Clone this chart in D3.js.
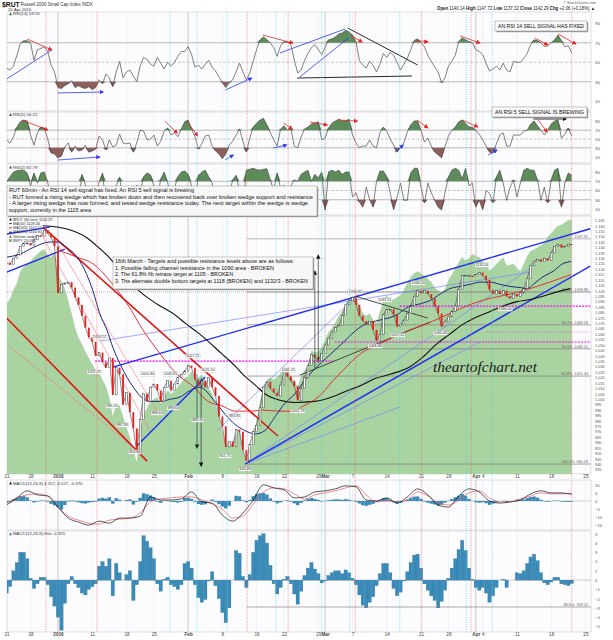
<!DOCTYPE html>
<html>
<head>
<meta charset="utf-8">
<title>$RUT 60 min</title>
<script src="https://cdn.jsdelivr.net/npm/d3@7"></script>
<style>
  body { margin: 0; background: #fff; }
  svg { display: block; }
  text { font-family: "Liberation Sans", Arial, sans-serif; }
  text.mark { font-family: "Liberation Serif", "DejaVu Serif", serif; font-style: italic; }
</style>
</head>
<body>
<svg id="chart" width="613" height="640"></svg>
<script>
/**
 * $RUT 60 min, 21 Dec 2015 - 20 Apr 2016, with RSI(14/5/2) and MACD panels.
 */
const STEP = 0.5;       // trading days between samples
const MACD_STEP = 1.5;  // MACD lines were read more coarsely

// price panel (RUT closes, SPY overlay expressed on the RUT scale)
const closes = [1126,1124,1130,1133,1141,1144,1144,1142,1147,1151,
  1150,1156,1153,1149,1141,1098,1106,1107,1108,1103,
  1094,1087,1077,1066,1057,1053,1040,1043,1034,1029,
  1038,1004,1029,1023,995,1006,988,973,951,981,
  1005,998,1011,1014,1008,998,1011,1017,1008,1014,
  1020,1023,1026,1031,1029,1018,1012,1017,1011,1020,
  1011,1003,984,975,956,961,956,972,970,953,
  943,958,970,976,992,1011,1016,1010,1006,1003,
  1013,1025,1021,1017,1012,999,1010,1020,1031,1041,
  1039,1036,1042,1050,1056,1062,1066,1068,1077,1087,
  1091,1094,1087,1077,1072,1069,1072,1064,1054,1060,
  1078,1083,1083,1078,1067,1069,1073,1079,1086,1095,
  1100,1098,1100,1097,1093,1086,1079,1067,1072,1076,
  1081,1086,1101,1114,1114,1114,1113,1115,1117,1114,
  1110,1101,1097,1100,1097,1100,1095,1093,1097,1095,
  1098,1102,1111,1123,1127,1129,1127,1130,1128,1135,
  1141,1143,1140,1141,1143,1142.29];

const spyOverlay = [1088,1093,1101,1107,1118,1122,1125,1127,1131,1134,
  1137,1138,1133,1131,1134,1115,1109,1102,1091,1079,
  1066,1057,1051,1044,1038,1032,1027,1024,1018,1012,
  1001,984,996,994,984,974,965,953,942,973,
  986,992,998,1000,1002,996,1003,1008,1005,1007,
  1012,1015,1020,1021,1026,1017,1020,1023,1017,1010,
  1005,996,984,970,959,956,959,968,972,953,
  941,951,966,981,998,1010,1018,1020,1018,1020,
  1024,1029,1027,1021,1016,1012,1021,1027,1032,1045,
  1043,1044,1048,1055,1062,1066,1071,1077,1081,1087,
  1093,1095,1093,1087,1079,1077,1079,1073,1070,1081,
  1091,1096,1091,1092,1094,1096,1101,1107,1113,1116,
  1118,1116,1114,1111,1108,1103,1100,1098,1102,1110,
  1115,1121,1126,1131,1128,1130,1134,1132,1131,1127,
  1125,1119,1121,1125,1128,1131,1123,1124,1125,1121,
  1118,1125,1132,1137,1138,1140,1142,1144,1150,1153,
  1157,1160,1161,1163,1165,1166];

// moving averages as [trading day, value]
const ma50 = [[0,1131],[2,1134],[3.9,1140],[6.3,1145],[7.5,1145],[8.8,1140],[10.3,1131],[11.7,1115],
  [12.6,1100],[13.6,1079],[14.7,1063],[15.5,1048],[16.6,1032],[17.6,1020],[18.5,1011],[19.5,1003],
  [20.9,998],[22.4,998],[23.9,1000],[25.3,1002],[26.8,1008],[28.2,1011],[30.4,998],[31.9,986],
  [33.3,977],[34.8,971],[36.3,968],[37.7,971],[39.2,984],[40.6,996],[42.1,1005],[43.6,1018],
  [45,1028],[46.5,1037],[47.9,1045],[49.4,1054],[50.9,1063],[52.3,1069],[53.8,1072],[55.2,1074],
  [56.7,1077],[58.9,1086],[60.4,1088],[61.8,1091],[63.3,1097],[64.7,1102],[66.2,1104],[67.7,1106],
  [69.1,1108],[70.6,1108],[72,1106],[73.5,1104],[75,1103],[76,1102],[76.9,1106],[78.3,1113],
  [79.8,1118],[81.2,1125],[82.4,1127]];
const ma100 = [[7.8,1137],[10.3,1131],[12.6,1125],[15.1,1109],[17.6,1088],[20,1063],[22.4,1042],
  [24.9,1023],[27.2,1012],[29.4,998],[31.4,994],[33.3,989],[35.8,989],[37.3,990],[39.6,989],
  [42.1,989],[43.1,993],[44.6,998],[46,1005],[47.5,1016],[49,1026],[50.4,1035],[51.9,1043],
  [53.8,1049],[56.7,1058],[58.9,1064],[61.1,1069],[63.3,1075],[65.7,1082],[68.4,1089],
  [70.6,1093],[73.5,1097],[76.4,1102],[79.3,1108],[82.4,1115]];
const ma200 = [[5.3,1160],[8.8,1157],[11.7,1149],[13.6,1139],[15.1,1130],[17,1115],[19.5,1099],
  [21.9,1088],[24.3,1079],[26.3,1069],[28.2,1060],[31.4,1042],[33.3,1031],[34.8,1021],[36.3,1013],
  [37.7,1005],[39.9,999],[42.1,997],[45,998],[47.9,1003],[49.8,1008],[51.9,1013],[53.8,1019],
  [56,1023],[58.9,1030],[60.8,1039],[62.8,1051],[64.7,1060],[66.6,1069],[68.7,1076],[70.6,1081],
  [72.5,1086],[74.5,1090],[76.4,1092],[78.3,1095],[80.4,1099],[82.3,1102]];

// indicator panels
const rsi14 = [44,42,46,57,69,72,72,70,52,63, 64,66,61,47,40,24,23,26,28,31,
  24,26,24,23,25,22,24,32,28,38, 34,25,40,51,34,40,42,36,30,46,
  55,53,48,46,55,49,43,50,46,50, 56,61,61,66,58,45,47,43,48,52,
  45,41,35,29,24,29,32,40,49,40, 32,39,51,63,73,76,73,70,65,56,
  67,71,71,68,52,39,42,52,59,65, 68,63,58,65,73,74,76,79,80,83,
  81,78,71,52,47,44,51,47,40,48, 59,55,60,57,50,42,48,54,63,72,
  74,70,66,57,51,45,40,29,34,46, 51,57,71,75,73,71,70,63,61,58,
  49,41,43,46,42,49,42,40,51,50, 50,54,59,68,73,72,70,66,67,70,
  73,78,72,66,67,59.5];
const rsi5 = [48,41,55,77,89,93,91,59,36,64, 77,75,50,18,16,7,11,32,41,20,
  34,23,25,36,20,23,27,57,48,25, 48,32,36,61,41,39,41,20,41,70,
  68,48,50,59,34,45,68,75,59,64, 55,73,89,93,73,55,27,39,57,59,
  34,23,16,5,16,36,45,59,73,45, 20,52,77,86,93,97,82,64,48,34,
  73,80,70,75,34,30,55,73,77,84, 86,89,48,52,75,86,91,95,91,91,
  95,59,41,30,34,34,48,34,30,64, 77,68,50,36,20,30,41,66,82,91,
  91,70,43,52,34,20,14,7,32,57, 70,77,89,93,86,77,77,70,61,48,
  34,20,18,39,59,64,34,34,59,59, 59,68,70,84,91,80,70,59,70,84,
  91,93,52,61,75,56.22];
const rsi2 = [68,80,90,93,94,94,88,60,88,66, 88,90,68,30,15,8,20,45,25,12,
  40,20,85,62,20,10,35,68,88,20, 55,10,60,79,20,50,25,10,62,45,
  80,88,84,60,30,75,90,68,30,55, 80,90,92,85,60,25,83,90,94,80,
  66,20,8,15,6,40,73,83,50,15, 94,96,98,95,94,96,97,73,50,88,
  55,62,30,60,73,70,85,90,94,70, 85,77,90,8,90,94,90,94,85,90,
  90,36,45,25,14,57,30,14,70,92, 92,80,45,8,36,66,29,29,88,98,
  98,57,23,66,45,29,14,8,45,79, 94,98,94,75,98,60,66,14,29,8,
  50,44,23,79,94,66,29,57,73,36, 66,94,98,94,94,73,29,57,23,73,
  94,98,14,66,88,82.79];
const macdLine = [-2.5,1.9,6.3,3.8,3.1,-3.8,-10.6,-13.1,-15,-12.5,
  -13.8,-10.6,-10.6,-9.4,2.5,0.6,0.6,1.3,5.6,-0.6,
  -1.3,-8.8,-12.5,-7.5,0.6,10,8.1,6.9,1.9,2.5,
  5.6,6.3,7.5,9.4,8.8,0.6,0,1.9,-1.3,2.5,
  7.5,3.8,-2.5,-3.8,3.1,7.5,5.6,0,-1.3,-0.6,
  0.6,4.4,6.3,5,5,4.157];
const macdSignal = [-1.3,1.9,3.8,4.4,3.1,-3.8,-9.4,-11.9,-13.8,-14.4,
  -11.9,-11.3,-10.6,-7.5,-0.6,1.3,1.9,2.5,2.5,0.6,
  -1.9,-5,-10.6,-9.4,-1.9,5.6,8.1,7.5,4.4,1.3,
  3.8,5,6.3,8.1,9.4,3.8,-0.6,0,-0.6,0.6,
  5.6,3.1,-1.3,-2.5,0.6,5,6.3,1.9,-0.6,-0.6,
  1.3,3.1,5,4.4,4.4,4.527];
const macdHist = [-1.4,-0.7,1.0,1.9,3.0,3.0,2.3,0.2,-0.9,-0.4,
  0.3,0.3,-0.5,-1.8,-2.8,-4.0,-5.4,-2.5,-0.4,0.4,
  -0.4,-0.8,-1.4,-1.6,-1.0,-0.7,-0.4,1.5,2.0,1.5,
  2.3,-1.7,1.8,0.8,0,0.6,1.0,-2.2,-0.5,2.0,
  4.8,4.2,3.5,2.3,-0.4,-1.2,0.1,0.3,-0.5,-0.7,
  -1.0,-0.5,1.8,2.0,1.3,-0.5,-1.9,-2.4,-2.1,-0.1,
  0.9,-0.6,-2.0,-3.5,-4.6,-3.0,0.0,3.2,2.9,0.4,
  -0.8,0.6,3.0,4.3,4.8,5.0,4.0,1.6,-0.4,-1.5,
  -0.8,0.1,0.4,-0.4,-1.5,-2.6,-1.2,0.5,1.3,1.9,
  1.2,0.7,-0.3,-0.1,0.5,0.8,1.0,1.0,0.7,1.1,
  0.8,0.2,-0.5,-1.6,-2.7,-3.0,-2.4,-1.8,-0.6,0.7,
  1.8,1.8,0.8,-0.9,-1.7,-1.3,-0.1,0.9,1.9,2.7,
  2.8,1.3,-0.4,-1.1,-1.7,-2.2,-3.0,-2.3,-1.1,0.2,
  1.3,2.3,3.3,4.3,3.2,1.3,0.1,-0.8,-1.1,-0.8,
  -1.4,-2.4,-1.7,-0.8,0.0,0.1,-0.8,0.0,0.0,0.8,
  0.7,1.0,1.8,2.5,2.8,2.1,0.8,-0.3,-0.5,-0.2,
  0.3,0.3,-0.4,-0.5,-0.6,-0.37];

// time axis (trading-day index, Dec 24 counted as half a day)
const tickDays = [0,3.5,7.5,12.5,17.5,21.5,26.5,31.5,36.5,40.5,45.5,46.5,50.5,55.5,60.5,64.5,68.5,69.5,74.5,79.5,84.5];
const tickLabels = ["21","28","2016","11","18","25","Feb","8","16","22","29","Mar","7","14","21","28","Apr","4","11","18","25"];
const boldTicks = ["2016","Feb","Mar","Apr"];
const monthDays = [7.5,26.5,46.5,68.5];
const redMarkDays = [5.75,13.2,35.1,41.1,50.9,60.6,67.8,82.5];
const cyanMarkDays = [23.85,27.8,32.2,39.3,46.0,50.1,57.4,67.1,70.9];

// annotations drawn on the price panel: [day1, price1, day2, price2]
const blueThick = [[15.5,1029.6,85.2,1157.2],[0,1152.3,6.3,1158.7],[0,1117.2,8.5,1138.4],
  [34.8,940.2,85.2,1122.8],[19.0,956.8,29.0,1020.4]];
const blueThin = [[13.6,1053.6,76.4,1117.2],[30.7,970.6,51.3,1096.9],[34.8,940.2,76.9,1122.8],
  [34.8,940.2,69.1,1052.7],[34.8,940.2,57.4,992.7]];
const redThick = [[5.3,1158.7,39.6,966.0],[0,1074.8,20.5,942.9]];
const redThin = [[0,1050.8,18.5,955.8],[4.9,1154.1,20.9,971.5],[7.1,1146.8,22.4,984.4]];
const blackTrend = [[50.9,1095.1,61.5,1074.8],[42.8,1022.2,61.8,1071.1]];
const downArrows = [[27.8,1023,955],[28.4,1019.5,938.3]];
const upArrows = [[45.5,1033.3,1132.9],[45.0,1028.7,1118.2]];
// magenta levels: [day1, day2, price, heavy]
const magentaLevels = [[12.9,47.7,1035.1,1],[57.4,85.2,1085.9,1],[47.9,85.2,1052.7,1],[70.1,85.2,1061.9,0]];
const fibLevels = [1147.92,1098.88,1068.58,1046.51,1021.34,940.18];
const fibLabels = ["1147.92","23.6%: 1098.88","38.2%: 1068.58","50.0%: 1046.51","61.8%: 1021.34","100.0%: 940.18"];
const pivotLabels = [[13.6,1056,"1054.52"],[12.8,1024,"1021.37"],[15.4,992.7,"995.45"],[16.9,975.2,"987.93"],
  [18.7,950.3,"958.84"],[20.6,1022.3,"1001.84"],[22,986.3,"996.64"],[23.9,1022.3,"1009.85"],
  [24.3,991,"999.54"],[27.2,1038.8,"1027.21"],[29.4,1026,"1025.10"],[27.9,979.8,"989.35"],
  [33.3,983.5,"983.85"],[31.9,946.6,"951.71"],[34.8,934.5,"943.28"],[41.1,1025.9,"1045.25"],
  [42.5,988.1,"1001.79"],[50.9,1098,"1094.81"],[55.2,1090.5,"1087.21"],[53.8,1048.1,"1056.86"],
  [60.1,1106.2,"1094.20"],[69.4,1122.8,"1113.16"],[63.3,1060.1,"1065.43"],[57.1,1058.2,"1057.12"],
  [72.8,1082.2,"1080.00"]];

// RSI annotations: [day1, v1, day2, v2, colour, arrow]
const rsi14Marks = [[3,73.8,6.6,62.6,"red",1],[0,32.8,6.6,62.6,"blue",0],[7.5,18.5,14.1,19.5,"blue",1],
  [31.9,21.5,35.8,33.8,"blue",1],[37.4,77.9,41.8,69.7,"red",1],[39.9,59.5,49.4,84.1,"blue",0],
  [42.8,34.9,50.1,75.9,"blue",0],[42.4,33.8,59.2,35.9,"black",0],[49.8,85.1,60,47.2,"black",0],
  [50.1,77.9,51.9,70.8,"red",1],[59.6,72.8,61.5,70.8,"red",1],[66.2,76.9,69.1,69.7,"red",1],
  [77.1,74.9,79,67.7,"red",1],[80.5,79,83.1,68.7,"red",1]];
const rsi5Marks = [[2.2,93.2,6,70.5,"red",1],[7.5,2.3,13.6,9.1,"blue",1],[31.9,2.3,33.1,13.6,"blue",1],
  [23.1,90.9,24.9,63.6,"red",1],[26.3,90.9,27.9,56.8,"red",1],[40.4,86.4,41.7,72.7,"red",1],
  [44.3,88.6,46.8,81.8,"red",1],[48.4,93.2,51.2,90.9,"red",1],[59.9,93.2,61.5,75,"red",1],
  [66.5,93.2,68.8,77.3,"red",1],[77.6,93.2,78.9,65.9,"red",1],[38.9,29.5,40.9,36.4,"blue",1],
  [56.7,20.5,57.9,36.4,"blue",1],[70.3,13.6,71.6,25,"blue",1],[76.9,95.5,81.7,95.5,"black",1]];

const COLORS = { red: "#e8231f", blue: "#2a3cf0", black: "#111" };

/**
 * Layout
 */
const svg = d3.select("#chart");
const defs = svg.append("defs");
const PLOT_L = 7, PLOT_R = 591;
const x = d3.scaleLinear().domain([0, 85]).range([6.6, 588.85]);

const P = {
  rsi14: { top: 12, bottom: 111, y: d3.scaleLinear().domain([0, 100]).range([111, 13.5]) },
  rsi5: { top: 112, bottom: 163, y: d3.scaleLinear().domain([0, 100]).range([161, 117]) },
  rsi2: { top: 164, bottom: 215, y: d3.scaleLinear().domain([0, 100]).range([213.6, 167.4]) },
  main: { top: 216, bottom: 474, y: d3.scaleLinear().domain([931, 1169]).range([474, 216]) },
  macd: { top: 480, bottom: 530, y: d3.scaleLinear().domain([-18, 13]).range([530, 480]) },
  hist: { top: 531, bottom: 632, y: d3.scaleLinear().domain([-5.6, 5.3]).range([632, 531]) },
};

["red", "blue", "black"].forEach((c) => {
  defs.append("marker").attr("id", "arr-" + c)
    .attr("viewBox", "0 0 10 10").attr("refX", 8).attr("refY", 5)
    .attr("markerWidth", 4.5).attr("markerHeight", 4.5)
    .attr("markerUnits", "userSpaceOnUse").attr("orient", "auto")
    .append("path").attr("d", "M0,0L10,5L0,10z").attr("fill", COLORS[c]);
});

// panel frames, grid and clipping groups
Object.entries(P).forEach(([key, p]) => {
  defs.append("clipPath").attr("id", "clip-" + key).append("rect")
    .attr("x", PLOT_L).attr("y", p.top).attr("width", PLOT_R - PLOT_L).attr("height", p.bottom - p.top);
  svg.append("rect").attr("x", PLOT_L).attr("y", p.top)
    .attr("width", PLOT_R - PLOT_L).attr("height", p.bottom - p.top)
    .attr("fill", "#fcfcfe").attr("stroke", "#c9c9cf").attr("stroke-width", 0.6);
  p.g = svg.append("g").attr("clip-path", `url(#clip-${key})`);
  p.g.selectAll(null).data(tickDays).join("line")
    .attr("x1", (d) => x(d)).attr("x2", (d) => x(d)).attr("y1", p.top).attr("y2", p.bottom)
    .attr("stroke", "#e4e4ec").attr("stroke-width", 0.5);
  p.g.selectAll(null).data(monthDays).join("line")
    .attr("x1", (d) => x(d)).attr("x2", (d) => x(d)).attr("y1", p.top).attr("y2", p.bottom)
    .attr("stroke", "#b4b4b4").attr("stroke-width", 0.6);
});

// dotted event markers through every panel
function markLines(days, color) {
  svg.selectAll(null).data(days).join("line")
    .attr("x1", (d) => x(d)).attr("x2", (d) => x(d)).attr("y1", 12).attr("y2", 632)
    .attr("stroke", color).attr("stroke-width", 0.6).attr("stroke-dasharray", "1.2,1.2");
}
markLines(redMarkDays, "#ee5a5a");
markLines(cyanMarkDays, "#3fd6e2");

function rightAxis(p, values, fmt, size) {
  const ax = svg.append("g").attr("transform", `translate(${PLOT_R},0)`)
    .call(d3.axisRight(p.y).tickValues(values).tickSize(0).tickPadding(4).tickFormat(fmt || null));
  ax.select(".domain").remove();
  ax.selectAll("text").attr("font-size", size).attr("fill", "#555");
}

function bottomAxis(yPos) {
  const ax = svg.append("g").attr("transform", `translate(0,${yPos})`)
    .call(d3.axisBottom(x).tickValues(tickDays).tickSize(0).tickPadding(1)
      .tickFormat((d, i) => tickLabels[i]));
  ax.select(".domain").remove();
  ax.selectAll("text").attr("font-size", 4.6).attr("fill", "#444")
    .attr("font-weight", (d, i) => (boldTicks.includes(tickLabels[i]) ? "bold" : "normal"));
}

function panelLabel(yPos, txt, color) {
  svg.append("path").attr("d", `M9,${yPos}l1.6,-3l1.6,3z`).attr("fill", color || "#3c7a3c");
  svg.append("text").attr("x", 13).attr("y", yPos).attr("font-size", 4.3).attr("fill", "#333").text(txt);
}

/**
 * RSI panels
 */
function drawRsi(p, vals, marks) {
  const y = p.y, g = p.g;
  const xi = (d, i) => x(i * STEP);
  [70, 30].forEach((v) => g.append("line").attr("x1", PLOT_L).attr("x2", PLOT_R)
    .attr("y1", y(v)).attr("y2", y(v)).attr("stroke", "#9d9d9d").attr("stroke-width", 0.7));
  g.append("line").attr("x1", PLOT_L).attr("x2", PLOT_R).attr("y1", y(50)).attr("y2", y(50))
    .attr("stroke", "#aaa").attr("stroke-width", 0.6).attr("stroke-dasharray", "3,1.5");
  g.append("path").datum(vals)
    .attr("d", d3.area().x(xi).y0(y(70)).y1((d) => y(Math.max(d, 70))))
    .attr("fill", "#5d8c5a");
  g.append("path").datum(vals)
    .attr("d", d3.area().x(xi).y0(y(30)).y1((d) => y(Math.min(d, 30))))
    .attr("fill", "#8c5e5c");
  g.append("path").datum(vals)
    .attr("d", d3.line().x(xi).y((d) => y(d)))
    .attr("fill", "none").attr("stroke", "#4a4a4a").attr("stroke-width", 0.7);
  g.selectAll(null).data(marks).join("line")
    .attr("x1", (d) => x(d[0])).attr("y1", (d) => y(d[1]))
    .attr("x2", (d) => x(d[2])).attr("y2", (d) => y(d[3]))
    .attr("stroke", (d) => COLORS[d[4]]).attr("stroke-width", (d) => (d[4] === "black" ? 0.9 : 0.8))
    .attr("marker-end", (d) => (d[5] ? `url(#arr-${d[4]})` : null));
  rightAxis(p, [10, 30, 50, 70, 90], null, 4.4);
}
drawRsi(P.rsi14, rsi14, rsi14Marks);
drawRsi(P.rsi5, rsi5, rsi5Marks);
drawRsi(P.rsi2, rsi2, []);

/**
 * Price panel
 */
const yM = P.main.y, gM = P.main.g;
const xi = (d, i) => x(i * STEP);

gM.append("path").datum(spyOverlay)
  .attr("d", d3.area().x(xi).y0(P.main.bottom).y1((d) => yM(d)))
  .attr("fill", "#a9d3a1");

// fib / reference levels
gM.append("line").attr("x1", PLOT_L).attr("x2", PLOT_R)
  .attr("y1", yM(fibLevels[1])).attr("y2", yM(fibLevels[1]))
  .attr("stroke", "#999").attr("stroke-width", 0.7).attr("stroke-dasharray", "1,1");
gM.selectAll(null).data(fibLevels).join("line")
  .attr("x1", x(35.1)).attr("x2", PLOT_R).attr("y1", (d) => yM(d)).attr("y2", (d) => yM(d))
  .attr("stroke", (d, i) => (i === 0 ? "#9a9a9a" : "#7c7c7c")).attr("stroke-width", 0.7);
gM.selectAll(null).data(fibLevels).join("text")
  .attr("x", 588).attr("y", (d) => yM(d) - 0.8).attr("text-anchor", "end")
  .attr("font-size", 3.8).attr("fill", "#666").text((d, i) => fibLabels[i]);

gM.selectAll(null).data(magentaLevels).join("line")
  .attr("x1", (d) => x(d[0])).attr("x2", (d) => x(d[1]))
  .attr("y1", (d) => yM(d[2])).attr("y2", (d) => yM(d[2]))
  .attr("stroke", "#f0f").attr("stroke-width", (d) => (d[3] ? 1.1 : 0.6))
  .attr("opacity", (d) => (d[3] ? 1 : 0.55)).attr("stroke-dasharray", "2,1.2");

function trend(list, color, width) {
  gM.selectAll(null).data(list).join("line")
    .attr("x1", (d) => x(d[0])).attr("y1", (d) => yM(d[1]))
    .attr("x2", (d) => x(d[2])).attr("y2", (d) => yM(d[3]))
    .attr("stroke", color).attr("stroke-width", width);
}
trend(redThin, "#f07a7a", 0.6);
trend(blueThin, "#7b86fb", 0.7);
trend(redThick, "#e4120f", 1.5);
trend(blueThick, "#1e2ef5", 1.4);
trend(blackTrend, "#222", 0.8);

// moving averages
const maLine = d3.line().curve(d3.curveMonotoneX).x((d) => x(d[0])).y((d) => yM(d[1]));
gM.append("path").datum(ma200).attr("d", maLine).attr("fill", "none").attr("stroke", "#111").attr("stroke-width", 1.1);
gM.append("path").datum(ma100).attr("d", maLine).attr("fill", "none").attr("stroke", "#e02424").attr("stroke-width", 0.9);
gM.append("path").datum(ma50).attr("d", maLine).attr("fill", "none").attr("stroke", "#1d2a7c").attr("stroke-width", 1);

// price: thin close line plus candle-like bodies from the previous close
gM.append("path").datum(closes)
  .attr("d", d3.line().x(xi).y((d) => yM(d)))
  .attr("fill", "none").attr("stroke", "#444").attr("stroke-width", 0.6);
const bodies = closes.slice(1).map((c, i) => ({ day: (i + 1) * STEP, o: closes[i], c }));
gM.selectAll(null).data(bodies).join("rect")
  .attr("x", (d) => x(d.day) - 0.9).attr("width", 1.8)
  .attr("y", (d) => yM(Math.max(d.o, d.c)))
  .attr("height", (d) => Math.max(0.8, Math.abs(yM(d.o) - yM(d.c))))
  .attr("fill", (d) => (d.c < d.o ? "#e3211c" : "#fff"))
  .attr("stroke", (d) => (d.c < d.o ? "none" : "#222")).attr("stroke-width", 0.4);

// vertical target arrows
gM.selectAll(null).data(downArrows.concat(upArrows)).join("line")
  .attr("x1", (d) => x(d[0])).attr("x2", (d) => x(d[0]))
  .attr("y1", (d) => yM(d[1])).attr("y2", (d) => yM(d[2]))
  .attr("stroke", "#111").attr("stroke-width", 0.6).attr("marker-end", "url(#arr-black)");

// pivot price labels
const piv = gM.selectAll(null).data(pivotLabels).join("g");
piv.append("text").attr("x", (d) => x(d[0])).attr("y", (d) => yM(d[1]))
  .attr("text-anchor", "middle").attr("font-size", 3.7).attr("fill", "#333").text((d) => d[2]);
piv.each(function () {
  const t = d3.select(this).select("text"), b = t.node().getBBox();
  d3.select(this).insert("rect", "text").attr("x", b.x - 0.6).attr("y", b.y - 0.2)
    .attr("width", b.width + 1.2).attr("height", b.height + 0.4)
    .attr("fill", "#fff").attr("fill-opacity", 0.85).attr("stroke", "#aaa").attr("stroke-width", 0.25);
});

// watermark
gM.append("text").attr("class", "mark").attr("x", 433).attr("y", 372).attr("font-size", 15)
  .attr("textLength", 104).attr("lengthAdjust", "spacingAndGlyphs").attr("fill", "#1a1a1a")
  .text("theartofchart.net");

rightAxis(P.main, d3.range(935, 1170, 5), null, 3.9);

// main legend
const legend = [["$RUT (60 min) 1142.29", "#333", "tri"], ["MA(50) 1128.44", "#1d2a7c", "line"],
  ["MA(100) 1115.15", "#e02424", "line"], ["MA(200) 1100.87", "#111", "line"],
  ["Volume undef", "#777", "tri"], ["$SPY 210.83", "#7fbf76", "box"]];
legend.forEach((l, i) => {
  const yy = 220.5 + i * 4.3;
  if (l[2] === "line") svg.append("line").attr("x1", 9).attr("x2", 12).attr("y1", yy - 1.2).attr("y2", yy - 1.2).attr("stroke", l[1]).attr("stroke-width", 0.9);
  else if (l[2] === "box") svg.append("rect").attr("x", 9).attr("y", yy - 2.8).attr("width", 3).attr("height", 2.8).attr("fill", l[1]);
  else svg.append("path").attr("d", `M9,${yy}l1.5,-2.8l1.5,2.8z`).attr("fill", l[1]);
  svg.append("text").attr("x", 13).attr("y", yy).attr("font-size", 3.8).attr("fill", "#333").text(l[0]);
});

/**
 * MACD panels
 */
const yC = P.macd.y, gC = P.macd.g;
gC.append("line").attr("x1", PLOT_L).attr("x2", PLOT_R).attr("y1", yC(0)).attr("y2", yC(0))
  .attr("stroke", "#aaa").attr("stroke-width", 0.5);
gC.selectAll(null).data(macdHist).join("rect")
  .attr("x", (d, i) => x(i * STEP) - 1.7).attr("width", 3.43)
  .attr("y", (d) => Math.min(yC(d), yC(0))).attr("height", (d) => Math.abs(yC(d) - yC(0)))
  .attr("fill", "#3a8bb8");
const macdGen = d3.line().curve(d3.curveMonotoneX).x((d, i) => x(i * MACD_STEP)).y((d) => yC(d));
gC.append("path").datum(macdSignal).attr("d", macdGen).attr("fill", "none").attr("stroke", "#ec5a5a").attr("stroke-width", 0.7);
gC.append("path").datum(macdLine).attr("d", macdGen).attr("fill", "none").attr("stroke", "#111").attr("stroke-width", 0.7);
rightAxis(P.macd, [-15, -10, -5, 0, 5, 10], null, 4.2);

const yH = P.hist.y, gH = P.hist.g;
gH.append("line").attr("x1", PLOT_L).attr("x2", PLOT_R).attr("y1", yH(0)).attr("y2", yH(0))
  .attr("stroke", "#999").attr("stroke-width", 0.5);
gH.selectAll(null).data(macdHist).join("rect")
  .attr("x", (d, i) => x(i * STEP) - 1.7).attr("width", 3.43)
  .attr("y", (d) => Math.min(yH(d), yH(0))).attr("height", (d) => Math.abs(yH(d) - yH(0)))
  .attr("fill", "#3a8bb8").attr("stroke", "#2d74a0").attr("stroke-width", 0.25);
gH.append("line").attr("x1", x(35.1)).attr("x2", PLOT_R).attr("y1", yH(-2.9)).attr("y2", yH(-2.9))
  .attr("stroke", "#888").attr("stroke-width", 0.7);
gH.append("text").attr("x", 588).attr("y", yH(-2.9) - 0.8).attr("text-anchor", "end")
  .attr("font-size", 3.8).attr("fill", "#666").text("88.6%: 918.52");
rightAxis(P.hist, d3.range(-5, 6, 1), null, 4.2);

bottomAxis(P.main.bottom);
bottomAxis(P.hist.bottom);

/**
 * Header and labels
 */
svg.append("text").attr("x", 2).attr("y", 6.5).attr("font-size", 6.8).attr("font-weight", "bold").attr("fill", "#111").text("$RUT");
svg.append("text").attr("x", 20.5).attr("y", 6).attr("font-size", 4.5).attr("fill", "#333").text("Russell 2000 Small Cap Index  INDX");
svg.append("text").attr("x", 8).attr("y", 10.6).attr("font-size", 4.2).attr("fill", "#333").text("20-Apr-2016");
svg.append("text").attr("x", 596).attr("y", 4.2).attr("text-anchor", "end").attr("font-size", 3.8).attr("fill", "#555").text("© StockCharts.com");
const quote = svg.append("text").attr("x", 437).attr("y", 10.3).attr("font-size", 4.6).attr("fill", "#222")
  .attr("textLength", 158).attr("lengthAdjust", "spacingAndGlyphs");
[["Open ", 1], ["1140.14  ", 0], ["High ", 1], ["1147.72  ", 0], ["Low ", 1], ["1137.32  ", 0],
  ["Close ", 1], ["1142.29  ", 0], ["Chg ", 1], ["+2.06 (+0.18%) ▲", 0]].forEach((s) => {
  quote.append("tspan").attr("font-weight", s[1] ? "bold" : "normal").text(s[0]);
});

panelLabel(15.2, "RSI(14) 59.50");
panelLabel(116, "RSI(5) 56.22");
panelLabel(168.5, "RSI(2) 82.79");
panelLabel(484.5, "MACD(12,26,9) 4.157, 4.527, -0.370", "#333");
panelLabel(535.2, "MACD(12,26,9)-Hist -0.370", "#3a8bb8");

/**
 * Comment boxes
 */
function noteBox(bx, by, bw, bh, lines, widths, size, centered) {
  svg.append("rect").attr("x", bx + 1.2).attr("y", by + 1.2).attr("width", bw).attr("height", bh).attr("fill", "#9a9a9a");
  svg.append("rect").attr("x", bx).attr("y", by).attr("width", bw).attr("height", bh)
    .attr("fill", "#fff").attr("fill-opacity", 0.92).attr("stroke", "#888").attr("stroke-width", 0.5);
  lines.forEach((t, i) => {
    svg.append("text").attr("x", centered ? bx + bw / 2 : bx + 2)
      .attr("y", by + (centered ? bh / 2 + size * 0.36 : 6 + i * 6.6))
      .attr("text-anchor", centered ? "middle" : "start")
      .attr("font-size", size).attr("fill", "#111")
      .attr("textLength", widths[i]).attr("lengthAdjust", "spacingAndGlyphs").text(t);
  });
}
noteBox(495, 21, 92, 10, ["AN RSI 14 SELL SIGNAL HAS FIXED"], [86], 5.8, true);
noteBox(492, 107, 95, 10, ["AN RSI 5 SELL SIGNAL IS BREWING"], [89], 5.8, true);
noteBox(7, 186, 310, 30, [
  "RUT 60min - An RSI 14 sell signal has fixed. An RSI 5 sell signal is brewing",
  "- RUT formed a rising wedge which has broken down and then recovered back over broken wedge support and resistance",
  "- A larger rising wedge has now formed, and tested wedge resistance today. The next target within the wedge is wedge",
  "support, currently in the 1115 area"], [185, 304, 299, 82], 5.6, false);
noteBox(113, 257, 200, 32, [
  "16th March - Targets and possible resistance levels above are as follows:",
  "1. Possible falling channel resistance in the 1090 area - BROKEN",
  "2. The 61.8% fib retrace target at 1105 - BROKEN",
  "3. The alternate double bottom targets at 1118 (BROKEN) and 1132/3 - BROKEN"], [179, 159, 118, 193], 5.6, false);
</script>
</body>
</html>
